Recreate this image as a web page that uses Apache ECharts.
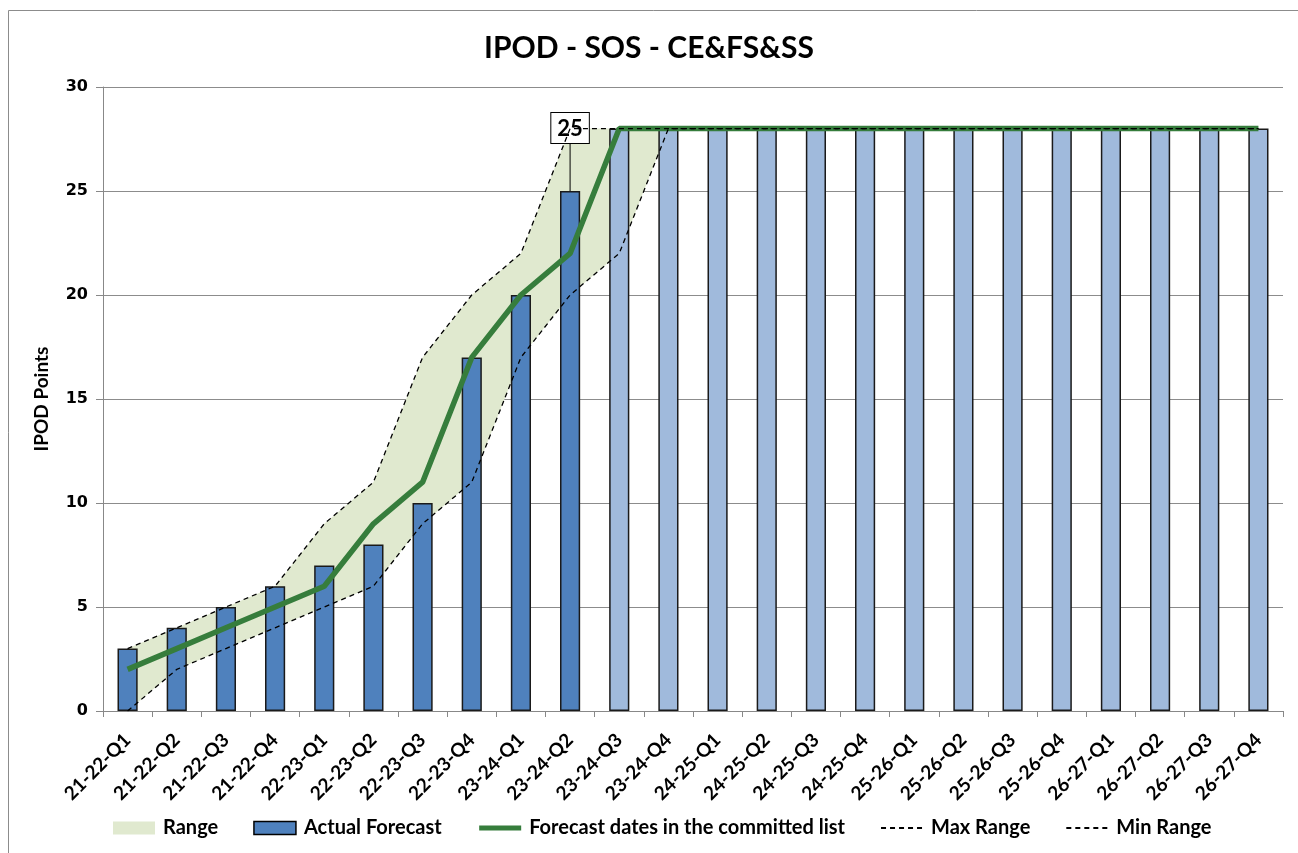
<!DOCTYPE html>
<html>
<head>
<meta charset="utf-8">
<script src="https://cdn.jsdelivr.net/npm/echarts@6/dist/echarts.min.js"></script>
<style>
html,body{margin:0;padding:0;background:#fff;}
#c{width:1298px;height:853px;}
</style>
</head>
<body>
<div id="c"></div>
<script>
var categories = ['21-22-Q1','21-22-Q2','21-22-Q3','21-22-Q4','22-23-Q1','22-23-Q2','22-23-Q3','22-23-Q4','23-24-Q1','23-24-Q2','23-24-Q3','23-24-Q4','24-25-Q1','24-25-Q2','24-25-Q3','24-25-Q4','25-26-Q1','25-26-Q2','25-26-Q3','25-26-Q4','26-27-Q1','26-27-Q2','26-27-Q3','26-27-Q4'];
var actualValues = [3,4,5,6,7,8,10,17,20,25];
var plannedValues = [28,28,28,28,28,28,28,28,28,28,28,28,28,28];
var forecastLine = [2,3,4,5,6,9,11,17,20,22,28,28,28,28,28,28,28,28,28,28,28,28,28,28];
var maxRange = [3,4,5,6,9,11,17,20,22,28,28,28,28,28,28,28,28,28,28,28,28,28,28,28];
var minRange = [0,2,3,4,5,6,9,11,17,20,22,28,28,28,28,28,28,28,28,28,28,28,28,28];
var yTicks = [0,5,10,15,20,25,30];
var labelledIndex = 9;

var FONT = 'Lato, "Open Sans", sans-serif';
var barData = [];
actualValues.forEach(function(v, i){
  var item = {value: v};
  if (i === labelledIndex) {
    item.label = {show: true};
    item.labelLine = {show: true, lineStyle: {color: '#000', width: 1}};
  }
  barData.push(item);
});
plannedValues.forEach(function(v){
  barData.push({value: v, itemStyle: {color: '#A0BADC'}});
});
var rangeDiff = maxRange.map(function(v, i){ return v - minRange[i]; });

var chart = echarts.init(document.getElementById('c'), null, {renderer: 'canvas'});
chart.setOption({
  animation: false,
  backgroundColor: '#fff',
  title: {
    text: 'IPOD - SOS - CE&FS&SS', left: 'center', top: 28,
    textStyle: {fontFamily: FONT, fontWeight: 'bold', fontSize: 30, color: '#000'}
  },
  graphic: [{
    type: 'rect', shape: {x: 8.5, y: 10.5, width: 1300, height: 850},
    style: {fill: 'none', stroke: '#8c8c8c', lineWidth: 1}, silent: true, z: -10
  }],
  legend: {
    bottom: 10, left: 108, itemGap: 35, itemWidth: 42, itemHeight: 13,
    textStyle: {fontFamily: FONT, fontWeight: 'bold', fontSize: 20, color: '#000', padding: [0, 0, 0, 3]},
    data: [
      {name: 'Range', icon: 'rect', itemStyle: {color: '#E0E9CF', borderWidth: 0}},
      {name: 'Actual Forecast', icon: 'rect', itemStyle: {color: '#4F81BD', borderColor: '#000', borderWidth: 1.5}},
      {name: 'Forecast dates in the committed list', itemStyle: {opacity: 0}, lineStyle: {width: 5, color: '#367D3C'}},
      {name: 'Max Range', itemStyle: {opacity: 0}},
      {name: 'Min Range', itemStyle: {opacity: 0}}
    ]
  },
  grid: {left: 103, right: 15, top: 87, bottom: 142, outerBoundsMode: 'none', containLabel: false},
  xAxis: {
    type: 'category', data: categories, boundaryGap: true,
    axisLine: {lineStyle: {color: '#888', width: 1}},
    axisTick: {show: true, alignWithLabel: false, length: 6, lineStyle: {color: '#888'}},
    axisLabel: {rotate: 45, interval: 0, fontFamily: FONT, fontWeight: 'bold', fontSize: 19, color: '#000', margin: 26, hideOverlap: false}
  },
  yAxis: {
    type: 'value', min: 0, max: 30, interval: 5,
    name: 'IPOD Points', nameLocation: 'middle', nameGap: 52, nameRotate: 90,
    nameTextStyle: {fontFamily: FONT, fontWeight: 'bold', fontSize: 19, color: '#000'},
    axisLine: {show: true, lineStyle: {color: '#888'}},
    axisTick: {show: true, length: 7, lineStyle: {color: '#888'}},
    axisLabel: {fontFamily: '"DejaVu Sans", sans-serif', fontWeight: 'bold', fontSize: 16, color: '#000', margin: 15,
      formatter: function(v){ return yTicks.indexOf(v) >= 0 ? String(v) : ''; }},
    splitLine: {show: true, lineStyle: {color: '#8c8c8c', width: 1}}
  },
  series: [
    {
      name: 'RangeBase', type: 'line', stack: 'range', data: minRange,
      symbol: 'none', lineStyle: {width: 0, opacity: 0}, areaStyle: {opacity: 0},
      silent: true, z: 1
    },
    {
      name: 'Range', type: 'line', stack: 'range', data: rangeDiff,
      symbol: 'none', lineStyle: {width: 0, opacity: 0},
      itemStyle: {color: '#E0E9CF'},
      areaStyle: {color: '#E0E9CF', opacity: 1}, silent: true, z: 1
    },
    {
      name: 'Actual Forecast', type: 'bar', data: barData, barWidth: '41%',
      itemStyle: {color: '#4F81BD', borderColor: '#1a1a1a', borderWidth: 1.5},
      label: {
        show: false, position: 'top', distance: 0,
        formatter: '{c}', color: '#000', fontFamily: FONT, fontWeight: 'bold', fontSize: 22,
        backgroundColor: '#fff', borderColor: '#000', borderWidth: 1,
        padding: [5, 6, 3, 6]
      },
      labelLayout: function(p){ return p.dataIndex === labelledIndex ? {dy: -48} : {}; },
      z: 3
    },
    {
      name: 'Forecast dates in the committed list', type: 'line', data: forecastLine,
      symbol: 'none', lineStyle: {color: '#367D3C', width: 5.5}, itemStyle: {color: '#367D3C'}, z: 4
    },
    {
      name: 'Max Range', type: 'line', data: maxRange, symbol: 'none',
      lineStyle: {color: '#000', width: 1.3, type: [5, 4]}, itemStyle: {color: '#000'}, z: 5
    },
    {
      name: 'Min Range', type: 'line', data: minRange, symbol: 'none',
      lineStyle: {color: '#000', width: 1.3, type: [5, 4]}, itemStyle: {color: '#000'}, z: 5
    }
  ]
});
</script>
</body>
</html>
